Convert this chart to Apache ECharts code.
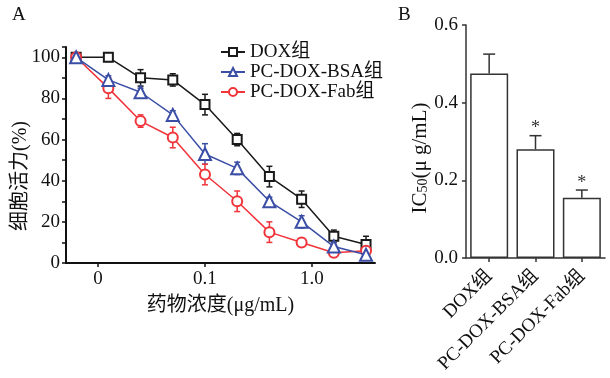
<!DOCTYPE html>
<html><head><meta charset="utf-8">
<script src="https://cdn.jsdelivr.net/npm/echarts@6/dist/echarts.min.js"></script>
<style>html,body{margin:0;padding:0;background:#fff}#c{width:610px;height:378px}</style>
</head><body><div id="c"></div>
<script>
// ---- Panel A data ----
const conc = [0.00625, 0.0125, 0.025, 0.05, 0.1, 0.2, 0.4, 0.8, 1.6, 3.2];
const doxMean = [100, 100, 90, 89, 77, 60, 42, 31, 13, 9];
const doxErr  = [1, 2, 4, 3, 5, 3, 5, 4, 3, 4];
const bsaMean = [100, 89, 83, 72, 53, 46, 30, 20, 8, 4];
const bsaErr  = [1, 2, 2, 2, 5, 3, 2, 3, 2, 2];
const fabMean = [100, 85, 69, 61, 43, 30, 15, 10, 5, 6];
const fabErr  = [1, 5, 3, 5, 5, 5, 5, 2, 2, 2];
const seriesNames = ['DOX组', 'PC-DOX-BSA组', 'PC-DOX-Fab组'];
const xTickValues = [0.01, 0.1, 1];
const xTickLabels = ['0', '0.1', '1.0'];
// ---- Panel B data ----
const groups = ['DOX组', 'PC-DOX-BSA组', 'PC-DOX-Fab组'];
const ic50 = [0.475, 0.28, 0.155];
const ic50Err = [0.05, 0.035, 0.02];
const sig = ['', '*', '*'];

const FONT = "'Liberation Serif','Noto Sans CJK SC',serif";
const colors = ['#1a1a1a', '#3b4ea6', '#f0343a'];
const symbols = ['emptyRect', 'emptyTriangle', 'emptyCircle'];
const symSizes = [9, 12, 10];
const lg = v => Math.log10(v);

const chart = echarts.init(document.getElementById('c'), null, {renderer: 'canvas'});

function errSeries(mean, err, color, z) {
  return {
    type: 'custom', xAxisIndex: 0, yAxisIndex: 0, z: z, silent: true,
    data: conc.map((c, i) => [lg(c), mean[i], err[i]]),
    renderItem: (params, api) => {
      const x = api.value(0), y = api.value(1), e = api.value(2);
      const top = api.coord([x, y + e]), bot = api.coord([x, y - e]);
      const s = {stroke: color, lineWidth: 1.5};
      return {type: 'group', children: [
        {type: 'line', shape: {x1: top[0], y1: top[1], x2: bot[0], y2: bot[1]}, style: s},
        {type: 'line', shape: {x1: top[0] - 3, y1: top[1], x2: top[0] + 3, y2: top[1]}, style: s},
        {type: 'line', shape: {x1: bot[0] - 3, y1: bot[1], x2: bot[0] + 3, y2: bot[1]}, style: s}
      ]};
    }
  };
}
function lineSeries(idx, mean, z) {
  return {
    name: seriesNames[idx], type: 'line', xAxisIndex: 0, yAxisIndex: 0, z: z,
    data: conc.map((c, i) => [lg(c), mean[i]]),
    symbol: symbols[idx], symbolSize: symSizes[idx],
    lineStyle: {color: colors[idx], width: 1.5},
    itemStyle: {color: colors[idx], borderWidth: 1.5},
    animation: false
  };
}

const option = {
  animation: false,
  backgroundColor: '#fff',
  textStyle: {fontFamily: FONT},
  grid: [
    {left: 66, top: 47, width: 309, height: 216},
    {left: 466, top: 25, width: 139, height: 233}
  ],
  legend: {
    data: seriesNames, orient: 'vertical', left: 215, top: 37,
    itemWidth: 24, itemHeight: 10, itemGap: 0,
    textStyle: {fontSize: 19, lineHeight: 20, color: '#111', fontFamily: FONT}
  },
  xAxis: [
    {
      type: 'value', gridIndex: 0, min: -2.299, max: 0.589,
      splitLine: {show: false},
      axisLine: {show: true, onZero: false, lineStyle: {color: '#111', width: 2}},
      axisTick: {show: true, length: 4, customValues: xTickValues.map(lg), lineStyle: {color: '#111', width: 1.5}},
      axisLabel: {
        customValues: xTickValues.map(lg), margin: 7, fontSize: 19, color: '#111', fontFamily: FONT,
        formatter: v => { const i = xTickValues.findIndex(t => Math.abs(lg(t) - v) < 1e-6); return i >= 0 ? xTickLabels[i] : ''; }
      },
      name: '药物浓度(μg/mL)', nameLocation: 'middle', nameGap: 33,
      nameTextStyle: {fontSize: 20, color: '#111', fontFamily: FONT}
    },
    {
      type: 'category', gridIndex: 1, data: groups,
      axisLine: {show: true, onZero: false, lineStyle: {color: '#333', width: 1.5}},
      axisTick: {show: true, alignWithLabel: true, length: 4, lineStyle: {color: '#333', width: 1.5}},
      axisLabel: {rotate: 45, margin: 15, fontSize: 19, color: '#111', fontFamily: FONT, interval: 0}
    }
  ],
  yAxis: [
    {
      type: 'value', gridIndex: 0, min: 0, max: 105, interval: 20,
      splitLine: {show: false},
      axisLine: {show: true, onZero: false, lineStyle: {color: '#111', width: 2}},
      axisTick: {show: true, length: 4, lineStyle: {color: '#111', width: 1.5}},
      minorTick: {show: true, splitNumber: 2, length: 4, lineStyle: {color: '#111', width: 1.5}},
      axisLabel: {margin: 6, fontSize: 19, color: '#111', fontFamily: FONT, showMaxLabel: false}
    },
    {
      type: 'value', gridIndex: 1, min: 0, max: 0.6, interval: 0.2,
      splitLine: {show: false},
      axisLine: {show: true, onZero: false, lineStyle: {color: '#333', width: 1.5}},
      axisTick: {show: true, length: 4, lineStyle: {color: '#333', width: 1.5}},
      axisLabel: {margin: 8, fontSize: 19, color: '#111', fontFamily: FONT, formatter: v => v.toFixed(1)}
    }
  ],
  graphic: [
    {type: 'text', left: 12, top: 6, style: {text: 'A', fontSize: 19, fontFamily: FONT, fill: '#111'}},
    {type: 'text', left: 398, top: 6, style: {text: 'B', fontSize: 19, fontFamily: FONT, fill: '#111'}},
    {type: 'text', x: 21, y: 176, rotation: Math.PI / 2,
     style: {text: '细胞活力(%)', fontSize: 20, fontFamily: FONT, fill: '#111', align: 'center', verticalAlign: 'middle'}},
    {type: 'text', x: 420, y: 158, rotation: Math.PI / 2,
     style: {text: '{a|IC}{s|50}{a|(μ g/mL)}', align: 'center', verticalAlign: 'middle', fill: '#111',
       rich: {a: {fontSize: 21, fontFamily: FONT, fill: '#111'}, s: {fontSize: 14, fontFamily: FONT, fill: '#111', padding: [6, 0, 0, 0]}}}}
  ],
  series: [
    errSeries(doxMean, doxErr, colors[0], 2),
    errSeries(bsaMean, bsaErr, colors[1], 2),
    errSeries(fabMean, fabErr, colors[2], 2),
    lineSeries(0, doxMean, 3),
    lineSeries(2, fabMean, 3),
    lineSeries(1, bsaMean, 4),
    {
      type: 'bar', xAxisIndex: 1, yAxisIndex: 1, data: ic50, barWidth: 38,
      itemStyle: {color: '#fff', borderColor: '#333', borderWidth: 1.5}, z: 2
    },
    {
      type: 'custom', xAxisIndex: 1, yAxisIndex: 1, z: 3, silent: true,
      data: ic50.map((v, i) => [i, v, ic50Err[i]]),
      renderItem: (params, api) => {
        const i = api.value(0), v = api.value(1), e = api.value(2);
        const base = api.coord([i, v]), top = api.coord([i, v + e]);
        const s = {stroke: '#333', lineWidth: 1.5};
        const ch = [
          {type: 'line', shape: {x1: base[0], y1: base[1], x2: top[0], y2: top[1]}, style: s},
          {type: 'line', shape: {x1: top[0] - 6, y1: top[1], x2: top[0] + 6, y2: top[1]}, style: s}
        ];
        if (sig[i]) ch.push({type: 'text', x: top[0], y: top[1] + 2,
          style: {text: sig[i], fontSize: 18, fontFamily: FONT, fill: '#333', align: 'center', verticalAlign: 'bottom'}});
        return {type: 'group', children: ch};
      }
    }
  ]
};
chart.setOption(option);
</script></body></html>
